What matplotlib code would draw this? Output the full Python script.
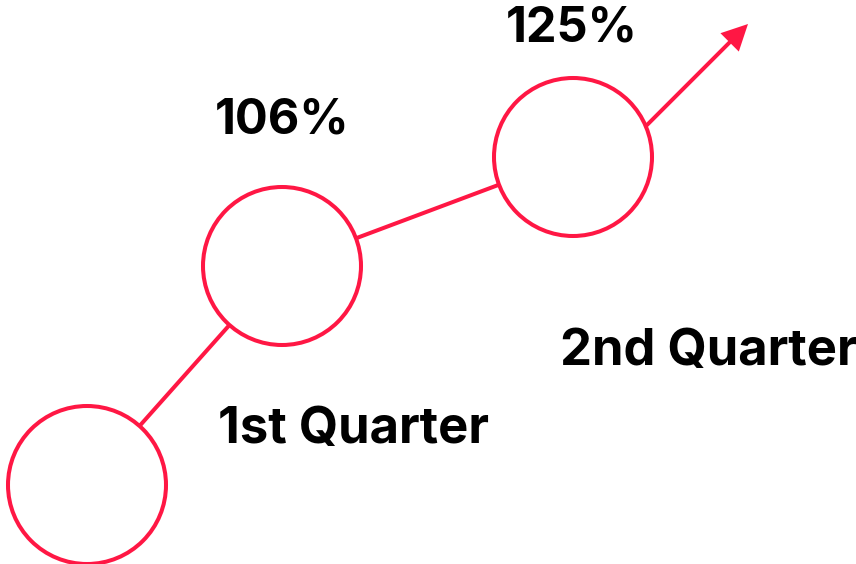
import numpy as np
import matplotlib.pyplot as plt
from matplotlib.patches import Circle, FancyArrow

# Values shown in the chart
value_labels = ['', '106%', '125%']
quarter_labels = ['1st Quarter', '2nd Quarter']

# Layout (pixel space of the 856x564 canvas)
node_x = [87, 282, 573]
node_y = [485, 266, 157]
radius = 79
arrow_tip = (748, 24)
arrow_angle = 45  # degrees, upward to the right
value_pos = [(None, None), (282, 121), (572, 29)]
quarter_pos = [(218, 430), (560, 351)]

red = '#FF1744'
lw = 2.9

fig = plt.figure(figsize=(8.56, 5.64), dpi=100)
ax = fig.add_axes([0, 0, 1, 1])
ax.set_xlim(0, 856)
ax.set_ylim(564, 0)
ax.axis('off')

# Circles
for x, y in zip(node_x, node_y):
    ax.add_patch(Circle((x, y), radius, fill=False, edgecolor=red, lw=lw))

# Connectors between circles (edge to edge)
for i in range(len(node_x) - 1):
    p0 = np.array([node_x[i], node_y[i]], dtype=float)
    p1 = np.array([node_x[i + 1], node_y[i + 1]], dtype=float)
    d = (p1 - p0) / np.linalg.norm(p1 - p0)
    a = p0 + d * radius
    b = p1 - d * radius
    ax.plot([a[0], b[0]], [a[1], b[1]], color=red, lw=lw, solid_capstyle='butt')

# Final arrow leaving the last circle at a fixed angle
c = np.array([node_x[-1], node_y[-1]], dtype=float)
tip = np.array(arrow_tip, dtype=float)
ang = np.radians(arrow_angle)
u = np.array([np.cos(ang), -np.sin(ang)])  # y axis inverted
# where the line through the tip meets the circle (nearest hit)
w = tip - c
b = np.dot(w, u)
disc = b * b - (np.dot(w, w) - radius ** 2)
t = b - np.sqrt(disc)
start = tip - t * u
vec = tip - start
ax.add_patch(FancyArrow(start[0], start[1], vec[0], vec[1], width=4,
                        head_width=26, head_length=26, length_includes_head=True,
                        color=red, lw=0))

font = ['Inter', 'DejaVu Sans']
for lab, (x, y) in zip(value_labels, value_pos):
    if lab:
        ax.text(x, y, lab, ha='center', va='center', fontsize=35,
                fontweight='bold', family=font, color='black')

for lab, (x, y) in zip(quarter_labels, quarter_pos):
    ax.text(x, y, lab, ha='left', va='center', fontsize=36.5,
            fontweight='bold', family=font, color='black')

fig.savefig('out.png', dpi=100)
